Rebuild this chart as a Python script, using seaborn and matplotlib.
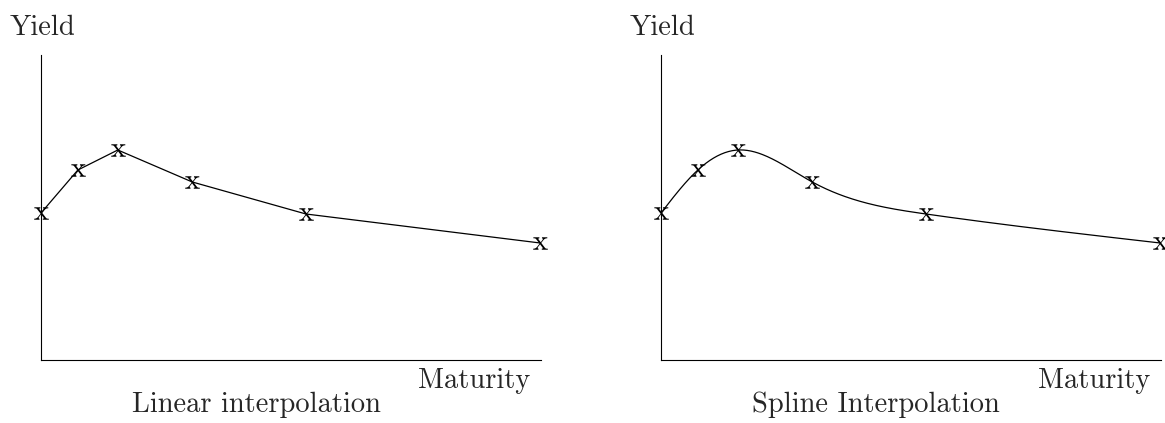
import matplotlib

matplotlib.use("Agg")
import matplotlib.pyplot as plt
import numpy as np
import pandas as pd
import seaborn as sns

# Yield curve nodes (maturity, yield)
MATURITY = [0.0, 0.48, 1.0, 1.97, 3.45, 6.5]
YIELD = [1.47, 1.90, 2.10, 1.78, 1.46, 1.17]
TITLES = ["Linear interpolation", "Spline Interpolation"]


def natural_spline(x, y, xs):
    """Natural cubic spline through (x, y), evaluated at xs."""
    x = np.asarray(x, float)
    y = np.asarray(y, float)
    n = len(x)
    h = np.diff(x)
    A = np.zeros((n, n))
    b = np.zeros(n)
    A[0, 0] = A[-1, -1] = 1.0
    for i in range(1, n - 1):
        A[i, i - 1] = h[i - 1]
        A[i, i] = 2 * (h[i - 1] + h[i])
        A[i, i + 1] = h[i]
        b[i] = 6 * ((y[i + 1] - y[i]) / h[i] - (y[i] - y[i - 1]) / h[i - 1])
    M = np.linalg.solve(A, b)
    idx = np.clip(np.searchsorted(x, xs) - 1, 0, n - 2)
    x0, x1 = x[idx], x[idx + 1]
    hh = x1 - x0
    t0, t1 = x1 - xs, xs - x0
    return (
        M[idx] * t0**3 / (6 * hh)
        + M[idx + 1] * t1**3 / (6 * hh)
        + (y[idx] / hh - M[idx] * hh / 6) * t0
        + (y[idx + 1] / hh - M[idx + 1] * hh / 6) * t1
    )


sns.set_theme(style="white")
plt.rcParams["font.family"] = ["cmr10", "DejaVu Serif"]
plt.rcParams["mathtext.fontset"] = "cm"
plt.rcParams["axes.formatter.use_mathtext"] = True

nodes = pd.DataFrame({"maturity": MATURITY, "yield": YIELD})
grid = np.linspace(MATURITY[0], MATURITY[-1], 400)
curves = [
    nodes,
    pd.DataFrame({"maturity": grid, "yield": natural_spline(MATURITY, YIELD, grid)}),
]

fig = plt.figure(figsize=(11.65, 4.23), dpi=100)
W, H = 1165, 423
axes = [
    fig.add_axes([41 / W, 63 / H, 500 / W, 305 / H]),
    fig.add_axes([661 / W, 63 / H, 500 / W, 305 / H]),
]

for ax, curve, title in zip(axes, curves, TITLES):
    sns.lineplot(data=curve, x="maturity", y="yield", color="black",
                 linewidth=0.9, sort=False, ax=ax)
    sns.lineplot(data=nodes, x="maturity", y="yield", color="black",
                 linestyle="none", marker="$\\mathrm{x}$", markersize=10.5,
                 markeredgewidth=0, clip_on=False, ax=ax)
    ax.set_xlim(0, 6.51)
    ax.set_ylim(0, 3.05)
    ax.set_xticks([])
    ax.set_yticks([])
    ax.set_xlabel("")
    ax.set_ylabel("")
    sns.despine(ax=ax)
    for side in ("left", "bottom"):
        ax.spines[side].set_color("black")
        ax.spines[side].set_linewidth(0.8)
    ax.text(-0.062, 1.089, "Yield", transform=ax.transAxes, fontsize=20.5,
            ha="left", va="center")
    ax.text(0.978, -0.069, "Maturity", transform=ax.transAxes, fontsize=20.5,
            ha="right", va="center")
    ax.text(0.43, -0.148, title, transform=ax.transAxes, fontsize=20.5,
            ha="center", va="center")

plt.savefig("out.png", dpi=100)
plt.close()
